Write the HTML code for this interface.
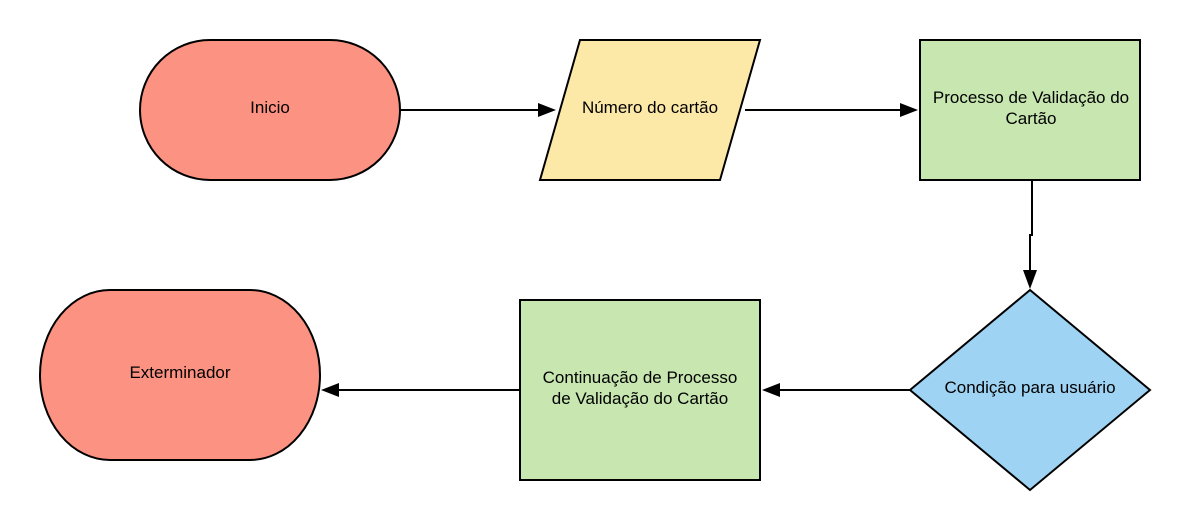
<!DOCTYPE html>
<html><head><meta charset="utf-8"><style>
html,body{margin:0;padding:0;background:#fff;}
svg{display:block;}
text{font-family:"Liberation Sans",sans-serif;font-size:17px;fill:#000;}
</style></head><body>
<svg width="1190" height="530" viewBox="0 0 1190 530" xmlns="http://www.w3.org/2000/svg">
<rect x="0" y="0" width="1190" height="530" fill="#fff"/>
<g stroke="#000" stroke-width="2">
<rect x="140" y="40" width="260" height="140" rx="70" ry="70" fill="#fc9281"/>
<polygon points="580,40 760,40 720,180 540,180" fill="#fde9a7"/>
<rect x="920" y="40" width="220" height="140" fill="#c7e6b0"/>
<polygon points="1030,290 1150,390 1030,490 910,390" fill="#9fd3f4"/>
<rect x="520" y="300" width="240" height="180" fill="#c7e6b0"/>
<rect x="40" y="290" width="280" height="170" rx="70" ry="85" fill="#fc9281"/>
<g fill="none">
<line x1="400" y1="110" x2="540" y2="110"/>
<line x1="745" y1="110" x2="902" y2="110"/>
<polyline points="1032,180 1032,235 1030,235 1030,272"/>
<line x1="910" y1="390" x2="778" y2="390"/>
<line x1="520" y1="390" x2="338" y2="390"/>
</g>
</g>
<g fill="#000">
<polygon points="556,110 538,103 538,117"/>
<polygon points="918,110 900,103 900,117"/>
<polygon points="1030,289 1023,270 1037,270"/>
<polygon points="762,390 780,383 780,397"/>
<polygon points="321,390 339,383 339,397"/>
</g>
<text x="270" y="113" text-anchor="middle">Inicio</text>
<text x="650" y="113" text-anchor="middle">Número do cartão</text>
<text x="1031" y="103" text-anchor="middle">Processo de Validação do</text>
<text x="1031" y="124" text-anchor="middle">Cartão</text>
<text x="1030" y="393" text-anchor="middle">Condição para usuário</text>
<text x="640" y="383" text-anchor="middle">Continuação de Processo</text>
<text x="640" y="404" text-anchor="middle">de Validação do Cartão</text>
<text x="180" y="378" text-anchor="middle">Exterminador</text>
</svg>
</body></html>
